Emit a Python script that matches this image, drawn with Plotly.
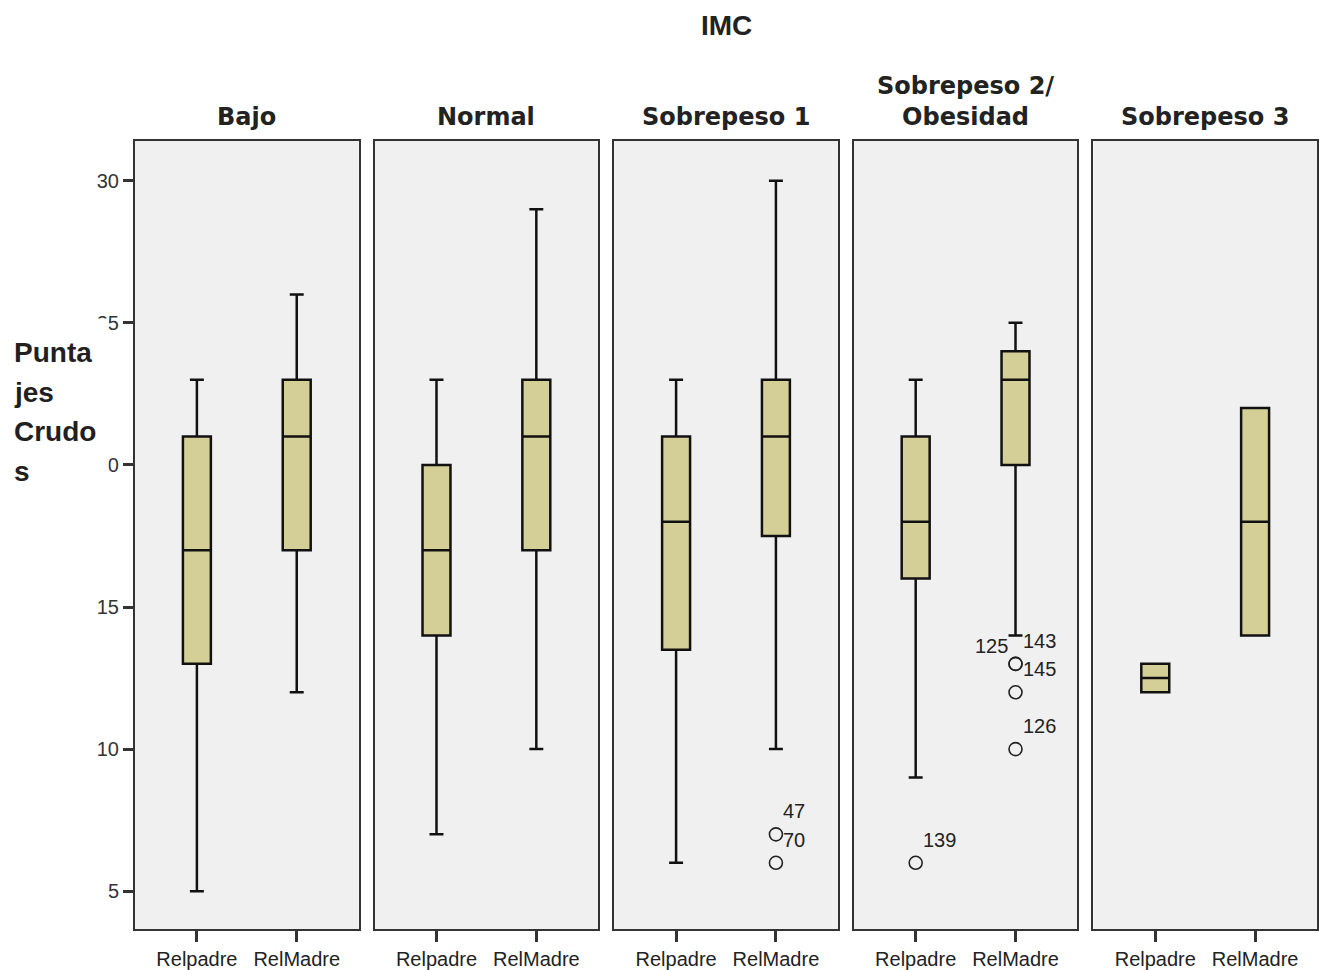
import plotly.graph_objects as go

# ---------------- data ----------------
title = "IMC"
groups = ["Bajo", "Normal", "Sobrepeso 1", "Sobrepeso 2/<br>Obesidad", "Sobrepeso 3"]
variables = ["Relpadre", "RelMadre"]

lower_fence = [[5, 12], [7, 10], [6, 10], [9, 14], [12, 14]]
q1_vals = [[13, 17], [14, 17], [13.5, 17.5], [16, 20], [12, 14]]
median_vals = [[17, 21], [17, 21], [18, 21], [18, 23], [12.5, 18]]
q3_vals = [[21, 23], [20, 23], [21, 23], [21, 24], [13, 22]]
upper_fence = [[23, 26], [23, 29], [23, 30], [23, 25], [13, 22]]

outlier_group = [2, 2, 3, 3, 3, 3, 3]
outlier_var = ["RelMadre", "RelMadre", "Relpadre", "RelMadre", "RelMadre", "RelMadre", "RelMadre"]
outlier_value = [7, 6, 6, 13, 13, 12, 10]
outlier_label = ["47", "70", "139", "143", "125", "145", "126"]
outlier_side = ["right", "right", "right", "right", "left", "right", "right"]

y_ticks = [5, 10, 15, 20, 25, 30]
y_title_lines = ["Punta", "jes", "Crudo", "s"]

# ---------------- layout geometry ----------------
W, H = 1319, 970
ML, MR, MT, MB = 135, 0, 141, 39
PW = W - ML - MR
PH = H - MT - MB
panel_w, panel_pitch = 224, 240


def px_x(p):
    return (p - ML) / PW


def px_y(p):
    return (H - MB - p) / PH


BOX_FILL = "#D4CF96"
PANEL_BG = "#F0F0F0"
TXT = "#222222"

fig = go.Figure()

for i, g in enumerate(groups):
    xa = "x" if i == 0 else f"x{i+1}"
    ya = "y" if i == 0 else f"y{i+1}"
    fig.add_trace(go.Box(
        x=variables,
        q1=q1_vals[i], median=median_vals[i], q3=q3_vals[i],
        lowerfence=lower_fence[i], upperfence=upper_fence[i],
        width=0.28, whiskerwidth=0.5,
        fillcolor=BOX_FILL,
        line=dict(color="#111111", width=2.5),
        boxpoints=False, showlegend=False, hoverinfo="skip",
        xaxis=xa, yaxis=ya,
    ))

# outliers
for gi in sorted(set(outlier_group)):
    xs = [v for g, v in zip(outlier_group, outlier_var) if g == gi]
    ys = [v for g, v in zip(outlier_group, outlier_value) if g == gi]
    xa = "x" if gi == 0 else f"x{gi+1}"
    ya = "y" if gi == 0 else f"y{gi+1}"
    fig.add_trace(go.Scatter(
        x=xs, y=ys, mode="markers",
        marker=dict(symbol="circle-open", size=13, color="#222222", line=dict(width=1.6)),
        showlegend=False, hoverinfo="skip", xaxis=xa, yaxis=ya,
    ))

annotations = []
for g, v, val, lab, side in zip(outlier_group, outlier_var, outlier_value, outlier_label, outlier_side):
    xr = "x" if g == 0 else f"x{g+1}"
    yr = "y" if g == 0 else f"y{g+1}"
    if side == "right":
        annotations.append(dict(x=v, y=val, xref=xr, yref=yr, text=lab, showarrow=False,
                                xanchor="left", yanchor="middle", xshift=5, yshift=23,
                                font=dict(family="Liberation Sans, Arial", size=20, color=TXT)))
    else:
        annotations.append(dict(x=v, y=val, xref=xr, yref=yr, text=lab, showarrow=False,
                                xanchor="right", yanchor="middle", xshift=-6, yshift=18,
                                font=dict(family="Liberation Sans, Arial", size=20, color=TXT)))

layout_axes = {}
for i, g in enumerate(groups):
    x0 = (panel_pitch * i) / PW
    x1 = min(1.0, (panel_pitch * i + panel_w) / PW)
    xname = "xaxis" if i == 0 else f"xaxis{i+1}"
    yname = "yaxis" if i == 0 else f"yaxis{i+1}"
    layout_axes[xname] = dict(
        domain=[x0, x1], anchor="y" if i == 0 else f"y{i+1}",
        type="category", categoryorder="array", categoryarray=variables,
        range=[-0.62, 1.62], showgrid=False, zeroline=False,
        showline=True, mirror=True, linecolor="#333333", linewidth=2,
        ticks="outside", ticklen=11, tickwidth=2.5, tickcolor="#333333",
        tickfont=dict(family="Liberation Sans, Arial", size=20, color=TXT),
    )
    layout_axes[yname] = dict(
        domain=[0, 1], anchor="x" if i == 0 else f"x{i+1}",
        range=[3.67, 31.4], showgrid=False, zeroline=False,
        showline=True, mirror=True, linecolor="#333333", linewidth=2,
        tickvals=y_ticks if i == 0 else [],
        ticks="outside" if i == 0 else "", ticklen=10, tickwidth=2.5, tickcolor="#333333",
        showticklabels=(i == 0),
        tickfont=dict(family="Liberation Sans, Arial", size=20, color="#333333"),
    )
    annotations.append(dict(
        x=(x0 + x1) / 2, y=1, xref="paper", yref="paper", text=f"<b>{g}</b>",
        showarrow=False, xanchor="center", yanchor="bottom", yshift=8,
        font=dict(family="DejaVu Sans", size=24, color=TXT),
    ))

# white block from the original chart hiding part of the tick labels
annotations.append(dict(
    x=px_x(0), y=px_y(318), xref="paper", yref="paper", text=" ",
    showarrow=False, xanchor="left", yanchor="top", width=107, height=172,
    bgcolor="white", borderpad=0, font=dict(size=4),
))
for line, yc in zip(y_title_lines, [353, 393, 432, 472]):
    annotations.append(dict(
        x=px_x(12), y=px_y(yc), xref="paper", yref="paper", text=f"<b>{line}</b>",
        showarrow=False, xanchor="left", yanchor="middle",
        font=dict(family="Liberation Sans, Arial", size=28, color="#231F20"),
    ))

annotations.append(dict(
    x=px_x(727), y=px_y(25), xref="paper", yref="paper", text=f"<b>{title}</b>",
    showarrow=False, xanchor="center", yanchor="middle",
    font=dict(family="Liberation Sans, Arial", size=28, color=TXT),
))

fig.update_layout(
    width=W, height=H,
    margin=dict(l=ML, r=MR, t=MT, b=MB),
    paper_bgcolor="white", plot_bgcolor=PANEL_BG,
    annotations=annotations,
    **layout_axes,
)

fig.write_html("out.html", config={"displayModeBar": False},
               post_script="document.body.style.margin='0';document.body.style.overflow='hidden';")
